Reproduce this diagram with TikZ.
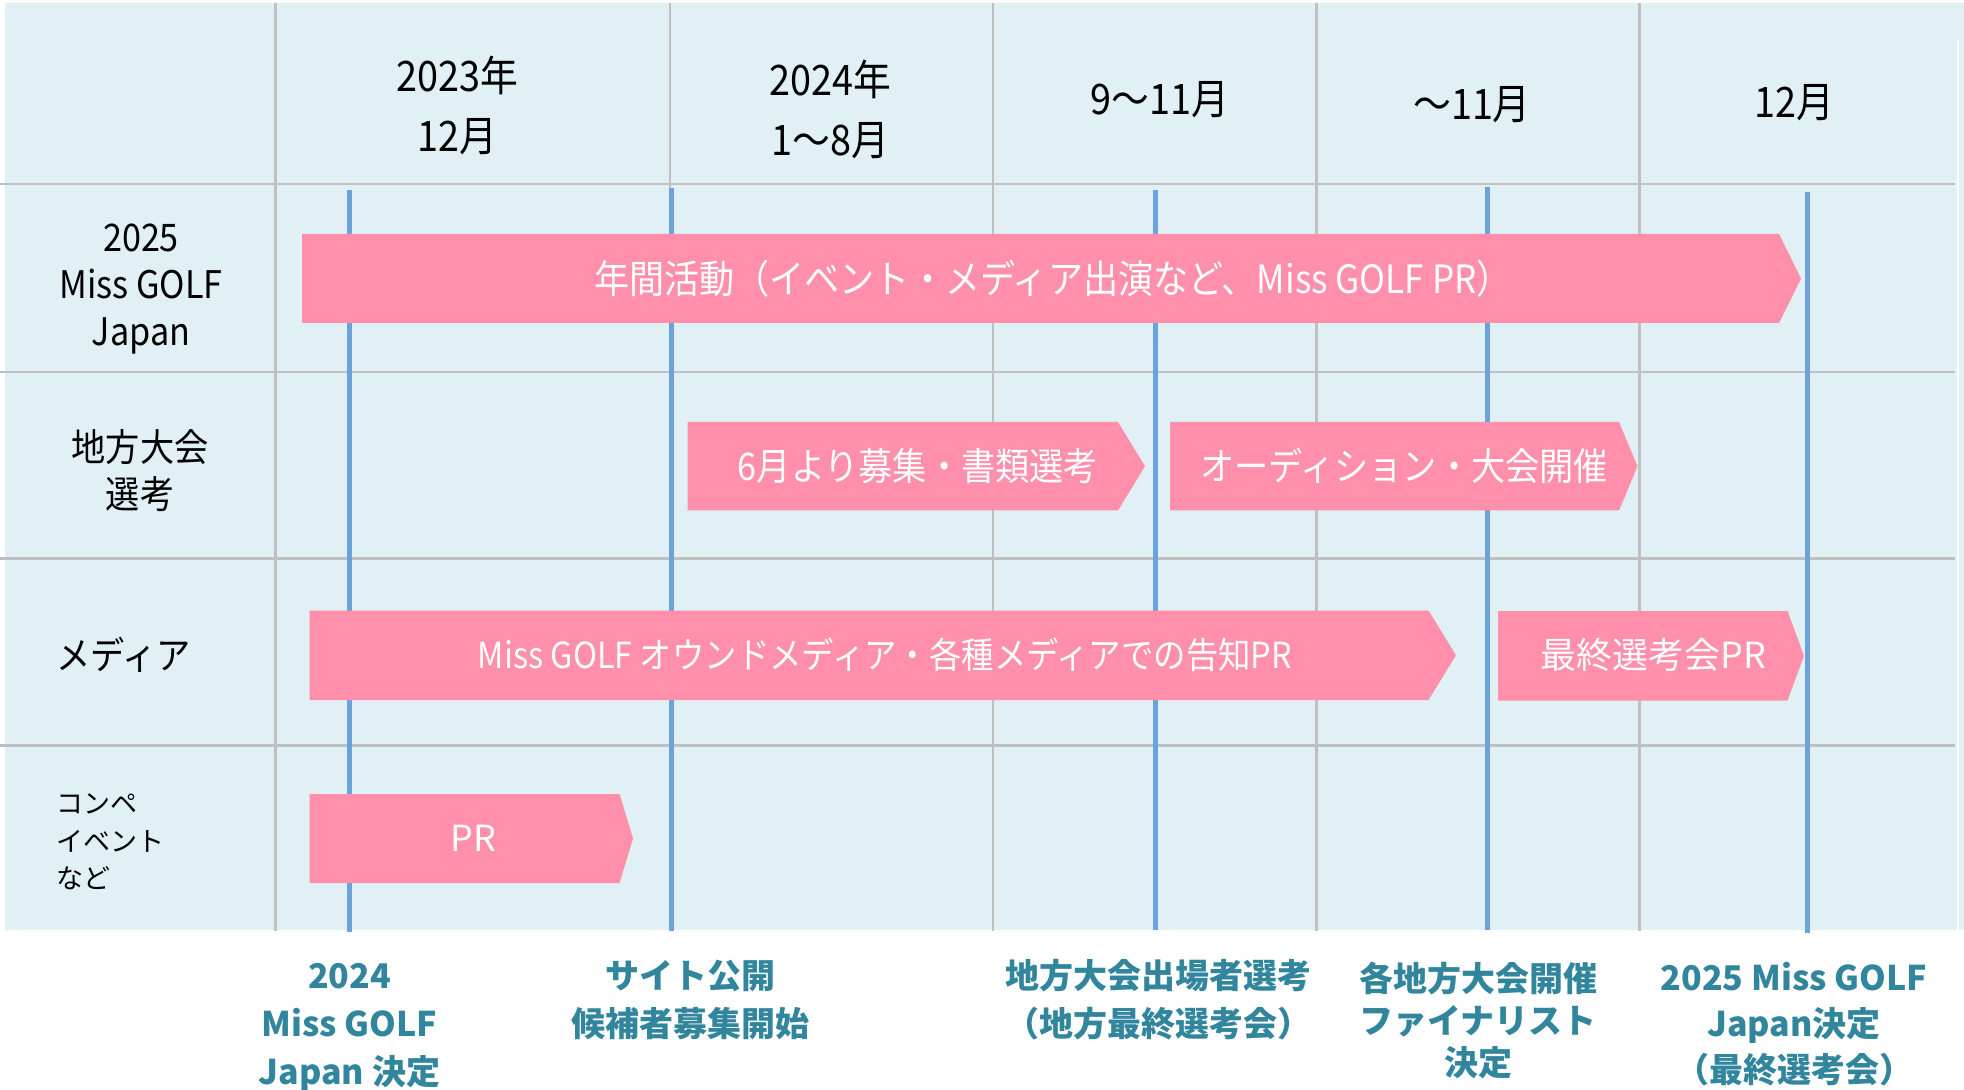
\documentclass[tikz,border=0pt]{standalone}
\usepackage{fontspec}
\newfontfamily\jpc[FakeStretch=0.9]{Noto Sans CJK JP}
\newfontfamily\jp{Noto Sans CJK JP}
\definecolor{bgblue}{RGB}{225,240,245}
\definecolor{barpink}{RGB}{255,143,171}
\definecolor{msblue}{RGB}{108,162,220}
\definecolor{gridgrey}{RGB}{192,192,192}
\definecolor{msteal}{RGB}{49,133,156}
\newcommand\pinkbar[5]{\fill[barpink] (#1,#4) -- (#2,#4) -- (#3,{(#4+#5)/2}) -- (#2,#5) -- (#1,#5) -- cycle;}
\begin{document}
\begin{tikzpicture}[x=0.5pt,y=-0.5pt,
  hdr/.style={font=\jpc\fontsize{21}{30}\selectfont, align=center, text=black, inner sep=0pt},
  rowlab/.style={font=\jpc\fontsize{19}{23.5}\selectfont, align=center, text=black, inner sep=0pt},
  smalllab/.style={font=\jp\fontsize{13.5}{18.8}\selectfont, align=left, text=black, inner sep=0pt, anchor=west},
  bartxt/.style={font=\jpc\fontsize{19.5}{19.5}\selectfont, text=white, inner sep=0pt},
  mslab/.style={font=\jp\bfseries\fontsize{17}{24}\selectfont, text=msteal, align=center, inner sep=0pt},
  gridline/.style={draw=gridgrey, line width=1.25pt},
  msline/.style={draw=msblue, line width=2.5pt}]
\useasboundingbox (0,0) rectangle (1964,1090);
% background
\fill[bgblue] (5,3) rectangle (1964,930);
\draw[white, line width=0.8pt] (1958,40) -- (1958,930);
% grid
\foreach \gx in {275.6,670,993,1316.5,1639.7} {\draw[gridline] (\gx,3) -- (\gx,931);}
\foreach \gy in {184,372,558.7,745.3} {\draw[gridline] (0,\gy) -- (1955,\gy);}
% milestone lines
\coordinate (m1top) at (349.5,190); \coordinate (m1bot) at (349.5,932);
\coordinate (m2top) at (671,188);   \coordinate (m2bot) at (671,931);
\coordinate (m3top) at (1155,190);  \coordinate (m3bot) at (1155,930);
\coordinate (m4top) at (1487,187);  \coordinate (m4bot) at (1487,930);
\coordinate (m5top) at (1807.5,192);\coordinate (m5bot) at (1807.5,933);
\foreach \m in {1,...,5} {\draw[msline] (m\m top) -- (m\m bot);}
% header
\node[hdr] (h1) at (457,105) {2023年\\12月};
\node[hdr] (h2) at (830.5,109.5) {2024年\\1〜8月};
\node[hdr] (h3) at (1160,100) {9〜11月};
\node[hdr] (h4) at (1472,105) {〜11月};
\node[hdr] (h5) at (1794,103) {12月};
% row labels
\node[rowlab] (r1) at (141,289) {2025\\Miss GOLF\\Japan};
\node[rowlab] (r2) at (140,471) {地方大会\\選考};
\node[rowlab, anchor=west] (r3) at (56,655) {メディア};
\node[smalllab] (r4) at (56,842) {コンペ\\イベント\\など};
% bars
\pinkbar{302}{1779}{1801}{234}{323}
\pinkbar{687.5}{1118}{1145}{422}{510.5}
\pinkbar{1170}{1619}{1637.5}{422}{510.5}
\pinkbar{309.5}{1428.5}{1456}{610.5}{700}
\pinkbar{1498}{1787.5}{1804}{611}{700.5}
\pinkbar{309.5}{619.5}{633}{794}{883}
\node[bartxt] (b1) at (1053,278.5) {年間活動（イベント・メディア出演など、Miss GOLF PR）};
\node[bartxt, font=\jpc\fontsize{19}{19}\selectfont] (b2) at (918,466) {6月より募集・書類選考};
\node[bartxt, font=\jpc\fontsize{19}{19}\selectfont] (b3) at (1404,466) {オーディション・大会開催};
\node[bartxt, font=\jpc\fontsize{18}{18}\selectfont] (b4) at (885,655) {Miss GOLF オウンドメディア・各種メディアでの告知PR};
\node[bartxt, font=\jp\fontsize{18}{18}\selectfont] (b5) at (1653.5,655) {最終選考会PR};
\node[bartxt, font=\jp\fontsize{18}{18}\selectfont] (b6) at (473.5,838) {PR};
% milestone labels
\node[mslab] (l1) at (349.5,1027) {2024\\Miss GOLF\\Japan 決定};
\node[mslab] (l2) at (690,1000) {サイト公開\\候補者募集開始};
\node[mslab] (l3) at (1158.6,1000) {地方大会出場者選考\\（地方最終選考会）};
\node[mslab, font=\jp\bfseries\fontsize{17}{21}\selectfont] (l4) at (1478,1020) {各地方大会開催\\ファイナリスト\\決定};
\node[mslab, font=\jp\bfseries\fontsize{17}{23}\selectfont] (l5) at (1794,1024) {2025 Miss GOLF\\Japan決定\\（最終選考会）};
\end{tikzpicture}
\end{document}
